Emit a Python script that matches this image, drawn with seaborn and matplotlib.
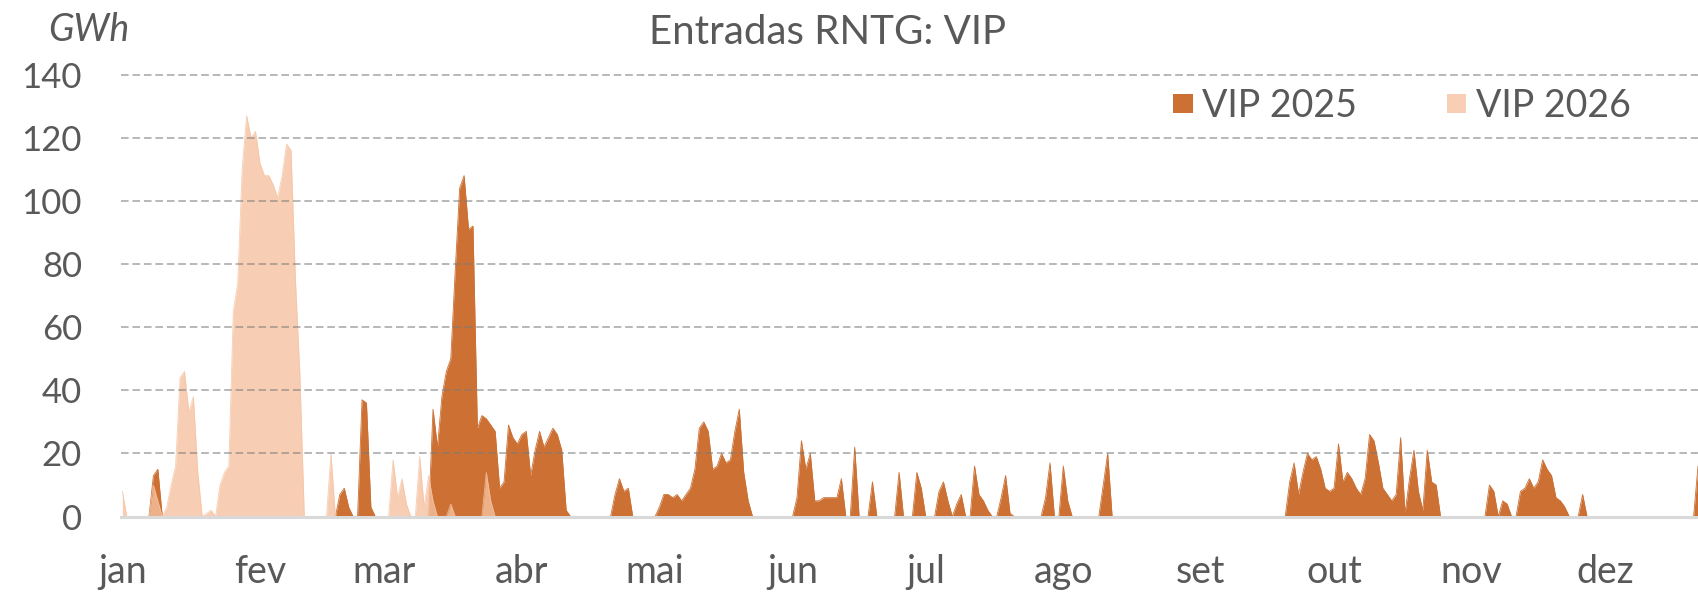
import matplotlib
matplotlib.use("Agg")
import numpy as np
import pandas as pd
import matplotlib.pyplot as plt
import seaborn as sns
from matplotlib.patches import Patch
from matplotlib.ticker import MultipleLocator, FixedLocator

# month labels (pt) and days per month
month_names = ['jan', 'fev', 'mar', 'abr', 'mai', 'jun', 'jul', 'ago', 'set', 'out', 'nov', 'dez']
month_days = [31, 28, 31, 30, 31, 30, 31, 31, 30, 31, 30, 31]

# VIP 2025, daily GWh, one list per month (dez cut where the picture ends)
jan25 = [0, 0, 0, 0, 0, 0, 0, 13, 15, 0, 0, 0, 0, 0, 0, 0, 0, 0, 0, 0, 0, 0, 0, 0, 0, 0, 0, 0, 0, 0, 0]
fev25 = [0] * 18 + [7, 9, 3, 0, 0, 37, 36, 3, 0, 0]
mar25 = [0] * 11 + [34, 22, 38, 46, 50, 78, 104, 108, 91, 92, 28, 32, 31, 29, 27, 9, 11, 29, 25, 23]
abr25 = [26, 27, 13, 21, 27, 22, 25, 28, 26, 21, 2, 0, 0, 0, 0, 0, 0, 0, 0, 0, 0, 7, 12, 8, 9, 0, 0, 0, 0, 0]
mai25 = [0, 3, 7, 7, 6, 7, 5, 7, 9, 15, 28, 30, 27, 15, 16, 20, 17, 18, 27, 34, 14, 5] + [0] * 9
jun25 = [0, 6, 24, 15, 20, 5, 5, 6, 6, 6, 6, 12, 0, 0, 22, 0, 0, 0, 11, 0, 0, 0, 0, 0, 14, 0, 0, 0, 14, 9]
jul25 = [0, 0, 0, 8, 11, 5, 0, 4, 7, 0, 0, 16, 7, 5, 2, 0, 0, 6, 13, 1, 0, 0, 0, 0, 0, 0, 0, 6, 17, 0, 0]
ago25 = [16, 5, 0, 0, 0, 0, 0, 0, 0, 10, 20] + [0] * 20
set25 = [0] * 20 + [11, 17, 7, 14, 20, 18, 19, 15, 9, 8]
out25 = [9, 23, 11, 14, 12, 9, 7, 12, 26, 24, 17, 9, 7, 5, 7, 25, 1, 12, 21, 8, 2, 21, 11, 10] + [0] * 7
nov25 = [0, 0, 0, 0, 10, 8, 0, 5, 4, 0, 0, 8, 9, 12, 9, 11, 18, 15, 13, 6, 5, 3, 0, 0, 0, 7, 0, 0, 0, 0]
dez25 = [0] * 21 + [16]

# VIP 2026, daily GWh (only to late March)
jan26 = [8, 0, 0, 0, 0, 0, 0, 10, 5, 0, 3, 10, 16, 44, 46, 33, 38, 14, 0, 1, 2, 0,
         10, 14, 16, 65, 74, 110, 127, 120, 122]
fev26 = [112, 108, 108, 105, 101, 108, 118, 116, 75, 45, 0, 0, 0, 0, 0, 0, 20] + [0] * 11
mar26 = [0, 0, 18, 6, 12, 4, 0, 0, 19, 3, 13, 5, 0, 0, 0, 4, 0, 0, 0, 0, 0, 0, 0, 14, 5, 0]

vip25 = jan25 + fev25 + mar25 + abr25 + mai25 + jun25 + jul25 + ago25 + set25 + out25 + nov25 + dez25
vip26 = jan26 + fev26 + mar26
df25 = pd.DataFrame({'dia': np.arange(len(vip25)), 'GWh': vip25})
df26 = pd.DataFrame({'dia': np.arange(len(vip26)), 'GWh': vip26})

c25 = '#CC7033'
c26 = '#F6C2A1'
txt = '#595959'

sns.set_style('white')
plt.rcParams['font.family'] = ['Lato', 'DejaVu Sans']

fig = plt.figure(figsize=(16.98, 5.95), dpi=100)
ax = fig.add_axes([121 / 1698, 78.4 / 595, 1 - 121 / 1698, 443 / 595])

# areas
ax.fill_between(df25['dia'], df25['GWh'], 0, color=c25, lw=0, zorder=2)
sns.lineplot(data=df25, x='dia', y='GWh', color=c25, lw=0.6, ax=ax, zorder=2)
ax.fill_between(df26['dia'], df26['GWh'], 0, color=c26, alpha=0.8, lw=0, zorder=3)
sns.lineplot(data=df26, x='dia', y='GWh', color=c26, alpha=0.8, lw=0.6, ax=ax, zorder=3)

ax.set_xlim(-0.3, 355)
ax.set_ylim(0, 140.3)
ax.set_yticks(range(0, 141, 20))
ax.set_xlabel('')
ax.set_ylabel('')

# month ticks at first day of each month
starts = np.cumsum([0] + month_days[:-1])
ax.xaxis.set_major_locator(FixedLocator(starts))
ax.set_xticklabels(month_names)
ax.xaxis.set_minor_locator(MultipleLocator(1))

ax.tick_params(axis='x', which='both', direction='out', length=9, width=1.3,
               color='#C4C4C4', labelsize=27, labelcolor=txt, pad=18)
ax.tick_params(axis='y', length=0, labelsize=25, labelcolor=txt, pad=28)

for s in ['top', 'right', 'left']:
    ax.spines[s].set_visible(False)
ax.spines['bottom'].set_color('#D9D9D9')
ax.spines['bottom'].set_linewidth(2.2)
ax.spines['bottom'].set_zorder(5)

# dashed grid above the areas
for v in range(20, 141, 20):
    ax.axhline(v, color='#7A7A7A', alpha=0.68, lw=1.1, ls=(0, (5, 2.5)), zorder=4)

fig.text(828 / 1698, 1 - 32 / 595, 'Entradas RNTG: VIP', ha='center', va='center',
         fontsize=29, color=txt)
fig.text(48 / 1698, 1 - 30 / 595, 'GWh', ha='left', va='center', fontsize=27,
         style='italic', color=txt)

handles = [Patch(facecolor=c25, edgecolor='none', label='VIP 2025'),
           Patch(facecolor='#F8CEB4', edgecolor='none', label='VIP 2026')]
fig.legend(handles=handles, loc='center left', bbox_to_anchor=(1173 / 1698, 1 - 106 / 595),
           ncol=2, frameon=False, fontsize=27, labelcolor=txt, handlelength=0.52,
           handleheight=0.38, handletextpad=0.25, columnspacing=2.4,
           borderpad=0, borderaxespad=0)

fig.savefig('out.png', dpi=100)
